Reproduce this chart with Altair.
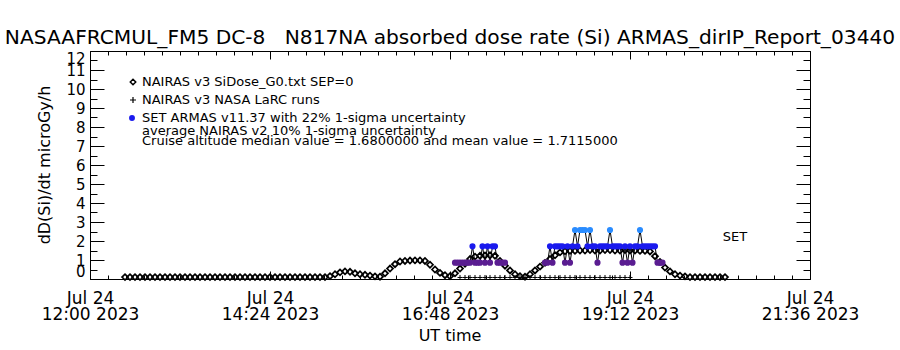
import altair as alt
import pandas as pd
from datetime import datetime, timedelta, timezone

FONT = "DejaVu Sans"
T0 = datetime(2023, 7, 24, 12, 0, tzinfo=timezone.utc)

# ---------------- data ----------------
# NAIRAS v3 SiDose_G0 (diamonds), one value every 4 min from 12:28 UT
nairas_start_min = 28
nairas_step_min = 4
nairas_dose = [
    0.10, 0.10, 0.10, 0.10, 0.10, 0.10, 0.10, 0.10, 0.10, 0.10,
    0.10, 0.10, 0.10, 0.10, 0.10, 0.10, 0.10, 0.10, 0.10, 0.10,
    0.10, 0.10, 0.10, 0.10, 0.10, 0.10, 0.10, 0.10, 0.10, 0.10,
    0.10, 0.10, 0.10, 0.10, 0.10, 0.10, 0.10, 0.10, 0.10, 0.10,
    0.10,
    0.15, 0.25, 0.35, 0.40, 0.38, 0.30, 0.25, 0.22, 0.18, 0.14, 0.12,
    0.30, 0.55, 0.78, 0.92, 0.95, 0.97, 0.98, 0.98, 0.95, 0.75, 0.50, 0.32, 0.20,
    0.15, 0.30, 0.55, 0.80, 1.05, 1.18, 1.22, 1.24, 1.25, 1.22, 0.95, 0.70,
    0.45, 0.25, 0.15, 0.12,
    0.25, 0.45, 0.65, 0.85, 1.05, 1.25, 1.40, 1.46,
    1.48, 1.48, 1.50, 1.50, 1.52, 1.50, 1.50, 1.52, 1.52, 1.50, 1.50, 1.52,
    1.50, 1.50, 1.48, 1.48,
    1.45, 1.20, 0.90, 0.60, 0.40, 0.25, 0.18, 0.14,
    0.10, 0.10, 0.10, 0.10, 0.10, 0.10, 0.10, 0.10,
]

# NAIRAS v3 NASA LaRC runs (plus signs), one value every 4 min from 16:56 UT
larc_start_min = 296
larc_step_min = 4
larc_dose = [
    0.08, 0.08, 0.08, 0.08, 0.08, 0.08, 0.08, 0.08, 0.08, 0.08,
    0.08, 0.08, 0.08, 0.08, 0.08, 0.08, 0.08, 0.08, 0.08, 0.08,
    0.08, 0.08, 0.08, 0.08, 0.08, 0.08, 0.08, 0.08, 0.08, 0.08,
    0.08, 0.08, 0.08, 0.08, 0.08,
]

# SET ARMAS v11.37 measurements, one value every 2 min, two flight segments
armas_step_min = 2
armas_a_start_min = 292
armas_a_dose = [
    0.86, 0.86, 0.86, 0.86, 0.86, 0.86, 0.86, 1.72, 0.86, 0.86,
    0.86, 1.72, 0.86, 1.72, 0.86, 1.72, 1.72, 0.86, 0.86, 0.86, 0.86,
]
armas_b_start_min = 364
armas_b_dose = [
    0.86, 0.86, 1.72, 0.86, 1.72, 1.72, 1.72, 1.72, 0.86, 1.72,
    0.86, 1.72, 2.58, 1.72, 2.58, 2.58, 2.58, 1.72, 2.58, 1.72,
    1.72, 0.86, 1.72, 1.72, 1.72, 1.72, 2.58, 1.72, 1.72, 1.72,
    1.72, 0.86, 1.72, 0.86, 1.72, 0.86, 1.72, 1.72, 2.58, 1.72,
    1.72, 1.72, 1.72, 1.72, 1.72, 0.86, 0.86, 0.86,
]
armas_levels = [0.86, 1.72, 2.58]
armas_colors = ["#5a1d91", "#1a1aee", "#2a8cff"]

x_major_min = [0, 144, 288, 432, 576]
x_minor_count = 40
y_major = [0, 1, 2, 3, 4, 5, 6, 7, 8, 9, 10, 11, 12]
y_minor = [0.5, 1.5, 2.5, 3.5, 4.5, 5.5, 6.5, 7.5, 8.5, 9.5, 10.5, 11.5]

set_label_min = 516
set_label_value = 2.2

title_text = ("NASAAFRCMUL_FM5 DC-8\u00a0\u00a0\u00a0N817NA absorbed dose rate (Si) "
              "ARMAS_dirIP_Report_03440")
legend_lines = [
    "NAIRAS v3 SiDose_G0.txt SEP=0",
    "NAIRAS v3 NASA LaRC runs",
    "SET ARMAS v11.37 with 22% 1-sigma uncertainty",
    "average NAIRAS v2 10% 1-sigma uncertainty",
    "Cruise altitude median value = 1.6800000 and mean value = 1.7115000",
]


def iso(m):
    return (T0 + timedelta(minutes=m)).strftime("%Y-%m-%dT%H:%M:%SZ")


def ms(m):
    return int((T0 + timedelta(minutes=m)).timestamp() * 1000)


nairas_df = pd.DataFrame({
    "t": [iso(nairas_start_min + nairas_step_min * i) for i in range(len(nairas_dose))],
    "v": nairas_dose,
})
larc_df = pd.DataFrame({
    "t": [iso(larc_start_min + larc_step_min * i) for i in range(len(larc_dose))],
    "v": larc_dose,
})
armas_df = pd.concat([
    pd.DataFrame({"t": [iso(armas_a_start_min + armas_step_min * i) for i in range(len(armas_a_dose))],
                  "v": armas_a_dose, "seg": "A"}),
    pd.DataFrame({"t": [iso(armas_b_start_min + armas_step_min * i) for i in range(len(armas_b_dose))],
                  "v": armas_b_dose, "seg": "B"}),
], ignore_index=True)
set_df = pd.DataFrame({"t": [iso(set_label_min)], "v": [set_label_value]})
anchor = pd.DataFrame({"t": [iso(0)], "v": [0.0]})

major_ms = [ms(m) for m in x_major_min]
minor_ms = [ms(576 * k / x_minor_count) for k in range(x_minor_count + 1)]

xs = alt.Scale(type="utc", domain=[ms(0), ms(576)], nice=False)
ys = alt.Scale(domain=[0, 12], nice=False, zero=False)


def X(axis=None):
    return alt.X("t:T", scale=xs, axis=axis)


def Y(axis=None):
    return alt.Y("v:Q", scale=ys, axis=axis)


def tick_axis(orient, values, size):
    return alt.Axis(orient=orient, values=values, labels=False, ticks=True, tickSize=size,
                    tickColor="black", tickWidth=1, domain=False, grid=False,
                    offset=-size, title=None)


x_label_axis = alt.Axis(
    orient="bottom", values=major_ms, ticks=False, domain=False, grid=False,
    labelExpr="[utcFormat(datum.value, '%b %d'), utcFormat(datum.value, '%H:%M %Y')]",
    labelFlush=False, labelOverlap=False, labelPadding=11, labelFontSize=17,
    labelFont=FONT, labelColor="black", labelLineHeight=16, title=None)
y_label_axis = alt.Axis(
    orient="left", values=y_major, ticks=False, domain=False, grid=False,
    labelFlush=True, labelOverlap=False, labelPadding=5, labelFontSize=15,
    labelFont=FONT, labelColor="black", format="d", title=None)


def axis_layer(xa, ya):
    return alt.Chart(anchor).mark_point(opacity=0).encode(x=X(xa), y=Y(ya))


axes = [
    axis_layer(x_label_axis, y_label_axis),
    axis_layer(tick_axis("bottom", major_ms, 8), tick_axis("left", y_major, 14)),
    axis_layer(tick_axis("bottom", minor_ms, 4), tick_axis("left", y_minor, 7)),
    axis_layer(tick_axis("top", major_ms, 8), tick_axis("right", y_major, 14)),
    axis_layer(tick_axis("top", minor_ms, 4), tick_axis("right", y_minor, 7)),
]

PLUS = "M-1,0H1M0,-1V1"

nairas_layer = alt.Chart(nairas_df).mark_point(
    shape="diamond", filled=False, size=36, color="black", strokeWidth=1.7, opacity=1
).encode(x=X(), y=Y())

larc_layer = alt.Chart(larc_df).mark_point(
    shape=PLUS, filled=False, size=25, color="black", strokeWidth=1, opacity=1, clip=True
).encode(x=X(), y=Y())

armas_line = alt.Chart(armas_df).mark_line(color="black", strokeWidth=1).encode(
    x=X(), y=Y(), detail="seg:N")

armas_pts = alt.Chart(armas_df).mark_circle(size=38, opacity=1).encode(
    x=X(), y=Y(),
    color=alt.Color("v:N", scale=alt.Scale(domain=armas_levels, range=armas_colors), legend=None))

set_text = alt.Chart(set_df).mark_text(
    text="SET", font=FONT, fontSize=13, color="black", align="center", baseline="middle"
).encode(x=X(), y=Y())


def text_at(txt, x, y, size=13, align="left", baseline="middle", angle=0):
    kw = dict(font=FONT, fontSize=size, color="black", align=align, baseline=baseline)
    if angle:
        kw["angle"] = angle
    return alt.Chart(anchor).mark_text(**kw).encode(
        x=alt.value(x), y=alt.value(y), text=alt.value(txt))


def sym_at(x, y, **kw):
    return alt.Chart(anchor).mark_point(opacity=1, **kw).encode(x=alt.value(x), y=alt.value(y))


legend_y = [31, 49, 67, 80, 90]
texts = [text_at(t, 52, yy) for t, yy in zip(legend_lines, legend_y)]
symbols = [
    sym_at(43, legend_y[0], shape="diamond", filled=False, size=30, color="black", strokeWidth=1.5),
    sym_at(43, legend_y[1], shape=PLUS, filled=False, size=36, color="black", strokeWidth=1.2),
    sym_at(42, legend_y[2], shape="circle", filled=True, size=35, color=armas_colors[1]),
]

titles = [
    text_at(title_text, 360, -7, size=20.2, align="center", baseline="alphabetic"),
    text_at("dD(Si)/dt microGy/h", -45, 114, size=16, align="center", angle=270),
    text_at("UT time", 360, 285, size=16, align="center"),
]

chart = alt.layer(
    *axes, nairas_layer, larc_layer, armas_line, armas_pts, set_text, *symbols, *texts, *titles
).resolve_axis(x="independent", y="independent").properties(
    width=720, height=228,
    padding={"left": 90, "top": 51, "right": 90, "bottom": 71},
    autosize=alt.AutoSizeParams(type="none"),
    background="white",
).configure_view(stroke="black", strokeWidth=1)

chart.save("out.html", embed_options={"renderer": "svg", "actions": False})
